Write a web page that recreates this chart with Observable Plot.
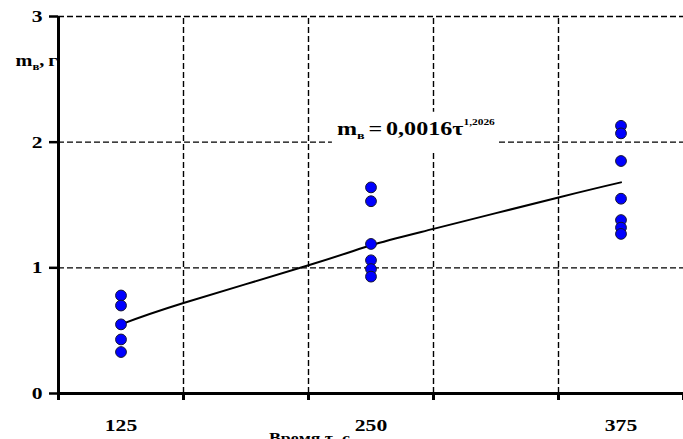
<!DOCTYPE html>
<html>
<head>
<meta charset="utf-8">
<script src="https://cdn.jsdelivr.net/npm/d3@7"></script>
<script src="https://cdn.jsdelivr.net/npm/@observablehq/plot@0.6"></script>
<style>
  html, body { margin: 0; padding: 0; background: #fff; }
  svg { display: block; }
</style>
</head>
<body>
<div id="chart"></div>
<script>
// Categories on the τ axis and the measured masses at each of them
const categories = [125, 250, 375];
const mass125 = [0.78, 0.70, 0.55, 0.43, 0.33];
const mass250 = [1.64, 1.53, 1.19, 1.06, 0.99, 0.93];
const mass375 = [2.13, 2.07, 1.85, 1.55, 1.38, 1.32, 1.27];

// Power-law trend line, sampled along τ
const trendTau = [125, 156.25, 218.75, 250, 281.25, 343.75, 375];
const trendMass = [0.55, 0.72, 1.02, 1.18, 1.31, 1.56, 1.68];

// Axis ticks
const xTicks = [93.75, 156.25, 218.75, 281.25, 343.75, 406.25];
const yTicks = [0, 1, 2, 3];

// Texts
const yTitle = "mв, г";
const xTitle = "Время τ, с";
const equation = "mв = 0,0016τ1,2026";

const massByCategory = [mass125, mass250, mass375];
const points = categories.flatMap((tau, i) => massByCategory[i].map((m) => ({tau, m})));
const trend = trendTau.map((tau, i) => ({tau, m: trendMass[i]}));

const xDomain = [xTicks[0], xTicks[xTicks.length - 1]];
const dashed = {stroke: "#000", strokeWidth: 1.4, strokeDasharray: "6,3"};

const chart = Plot.plot({
  width: 683,
  height: 439,
  marginLeft: 58,
  marginRight: 0,
  marginTop: 16,
  marginBottom: 46,
  x: {domain: xDomain},
  y: {domain: [0, 3]},
  style: {
    fontFamily: "'Liberation Serif', 'Times New Roman', serif",
    fontWeight: "bold",
    fontSize: "17px",
    color: "#000",
    background: "#fff"
  },
  marks: [
    // dashed grid
    Plot.ruleX(xTicks.slice(1, -1), {y1: 0, y2: 3, ...dashed}),
    Plot.ruleY(yTicks.slice(1), {x1: xDomain[0], x2: xDomain[1], ...dashed}),
    // trend line and measurements
    Plot.line(trend, {x: "tau", y: "m", curve: "natural", stroke: "#000", strokeWidth: 2}),
    Plot.dot(points, {x: "tau", y: "m", r: 5.4, fill: "#0000ff", stroke: "#141433", strokeWidth: 1}),
    // fitted equation
    Plot.text([equation], {x: 233, y: 2.06, textAnchor: "start", lineAnchor: "bottom", fontSize: 19, fill: "#000"}),
    // y title
    Plot.text([yTitle], {frameAnchor: "top-left", dx: -43, dy: 49, textAnchor: "start", lineAnchor: "bottom", fontSize: 16, fill: "#000"}),
    // x title (runs past the bottom edge)
    Plot.text([xTitle], {frameAnchor: "bottom", dx: -102, dy: 40, textAnchor: "start", lineAnchor: "top", fontSize: 14, fill: "#000"}),
    // axes
    Plot.ruleY([0], {stroke: "#000", strokeWidth: 3}),
    Plot.ruleX([xDomain[0]], {y1: 0, y2: 3, stroke: "#000", strokeWidth: 3}),
    Plot.axisY({ticks: yTicks, tickSize: 9, tickPadding: 7, tickFormat: (d) => String(d), label: null, strokeWidth: 2.5}),
    Plot.axisX({ticks: xTicks, tickSize: 7, tickFormat: () => "", label: null, strokeWidth: 3}),
    Plot.axisX({ticks: categories, tickSize: 0, tickPadding: 25, tickFormat: (d) => String(d), label: null})
  ]
});

document.getElementById("chart").append(chart);

// Bold serif lettering is drawn a little wide
const stretch = 1.27;
chart.querySelectorAll("text").forEach((t) => {
  const tr = t.getAttribute("transform");
  if (tr) t.setAttribute("transform", `${tr} scale(${stretch},1)`);
  else {
    const x = +t.getAttribute("x") || 0;
    t.setAttribute("transform", `translate(${x},0) scale(${stretch},1) translate(${-x},0)`);
  }
});

const SVGNS = "http://www.w3.org/2000/svg";
function richText(el, parts) {
  el.textContent = "";
  for (const p of parts) {
    const ts = document.createElementNS(SVGNS, "tspan");
    ts.textContent = p.text;
    if (p.size) ts.setAttribute("font-size", p.size);
    if (p.dx) ts.setAttribute("dx", p.dx);
    if (p.dy) ts.setAttribute("dy", p.dy);
    el.append(ts);
  }
}
const findText = (s) => Array.from(chart.querySelectorAll("text")).find((t) => t.textContent === s);

// equation with subscript / superscript and a white label box
const eq = findText(equation);
richText(eq, [
  {text: "m"},
  {text: "в", size: 11, dy: 4},
  {text: "=", dx: 3, dy: -4},
  {text: "0,0016τ", dx: 3},
  {text: "1,2026", size: 9, dy: -10}
]);
const bb = eq.getBBox();
const box = document.createElementNS(SVGNS, "rect");
box.setAttribute("x", bb.x - 4);
box.setAttribute("y", bb.y - 5);
box.setAttribute("width", bb.width + 6);
box.setAttribute("height", bb.height + 14);
box.setAttribute("fill", "#fff");
box.setAttribute("transform", eq.getAttribute("transform"));
eq.parentNode.insertBefore(box, eq);

// y title with subscript
const yt = findText(yTitle);
richText(yt, [
  {text: "m"},
  {text: "в", size: 10, dy: 4},
  {text: ",", dy: -4},
  {text: "г", dx: 3}
]);
</script>
</body>
</html>
